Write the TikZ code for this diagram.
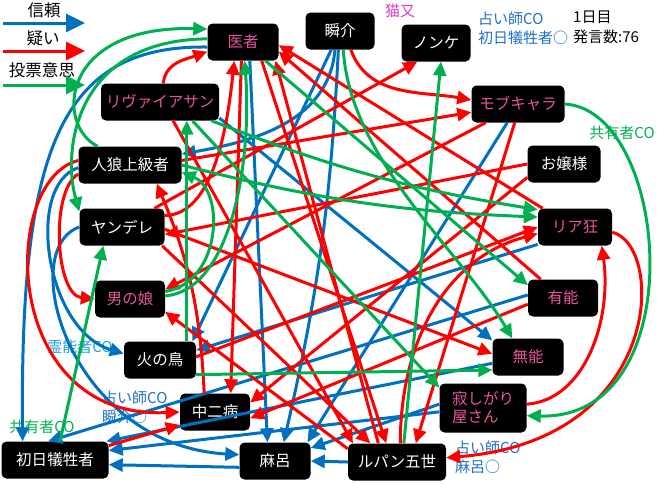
\documentclass[tikz,border=0pt]{standalone}
\usepackage{fontspec}
\setmainfont{Noto Sans CJK JP}
\usetikzlibrary{arrows.meta}
\definecolor{trustblue}{RGB}{0,112,192}
\definecolor{doubtred}{RGB}{255,0,0}
\definecolor{votegreen}{RGB}{0,176,80}
\definecolor{rolepink}{RGB}{232,84,158}
\definecolor{catpink}{RGB}{226,60,190}
\definecolor{seerblue}{RGB}{30,112,200}
\definecolor{mediumblue}{RGB}{30,160,230}

\begin{document}
\begin{tikzpicture}[x=1pt,y=1pt]
\tikzstyle{person}=[fill=black,rounded corners=5pt,minimum height=37pt,inner sep=2pt,text=white,font=\fontsize{15.5}{18}\selectfont]
\tikzstyle{pinkname}=[text=rolepink]
\tikzstyle{note}=[inner sep=0pt,font=\fontsize{15}{17.5}\selectfont]
\tikzstyle{legend}=[inner sep=0pt,font=\fontsize{16.5}{19}\selectfont]
\tikzstyle{trust}=[draw=trustblue,line width=3pt,-{Triangle[length=14pt,width=13pt]}]
\tikzstyle{doubt}=[draw=doubtred,line width=3pt,-{Triangle[length=14pt,width=13pt]}]
\tikzstyle{vote}=[draw=votegreen,line width=3pt,-{Triangle[length=14pt,width=13pt]}]
\tikzstyle{bigtip}=[-{Triangle[length=19pt,width=18pt]}]
\useasboundingbox (0,0) rectangle (660,-483);

\node[legend] (trustlbl) at (44,-10) {信頼};
\node[legend] (doubtlbl) at (43,-38) {疑い};
\node[legend] (votelbl) at (42,-70) {投票意思};
\coordinate (trustS) at (3,-23);
\coordinate (trustE) at (85,-23);
\coordinate (doubtS) at (3,-51);
\coordinate (doubtE) at (85,-51);
\coordinate (voteS) at (3,-85);
\coordinate (voteE) at (85,-85);
\draw [trust,bigtip] (trustS) -- (trustE);
\draw [doubt,bigtip] (doubtS) -- (doubtE);
\draw [vote,bigtip] (voteS) -- (voteE);

\node[note,text=catpink] (nekomata) at (400,-11) {猫又};
\node[note,text=seerblue,anchor=west] (seerA) at (478,-19) {占い師CO};
\node[note,text=seerblue,anchor=west] (seerAres) at (478,-38) {初日犠牲者○};
\node[note,anchor=west] (day) at (573,-17) {1日目};
\node[note,anchor=west] (count) at (573,-37) {発言数:76};
\node[note,text=votegreen] (shareA) at (622,-133) {共有者CO};
\node[note,text=mediumblue] (medium) at (80,-347) {霊能者CO};
\node[note,text=seerblue,anchor=west] (seerB) at (102,-398) {占い師CO};
\node[note,text=seerblue,anchor=west] (seerBres) at (102,-417) {瞬介○};
\node[note,text=votegreen] (shareB) at (42,-427) {共有者CO};
\node[note,text=seerblue,anchor=west] (seerC) at (455,-448) {占い師CO};
\node[note,text=seerblue,anchor=west] (seerCres) at (455,-467) {麻呂○};

\node[person,pinkname,minimum width=71pt] (isha) at (243,-42) {医者};
\node[person,minimum width=69pt] (shun) at (340,-31) {瞬介};
\node[person,minimum width=69pt] (nonke) at (436,-43) {ノンケ};
\node[person,pinkname,minimum width=93pt] (mob) at (518,-104) {モブキャラ};
\node[person,pinkname,minimum width=118pt] (levi) at (160,-102) {リヴァイアサン};
\node[person,minimum width=73pt] (ojo) at (564,-164) {お嬢様};
\node[person,minimum width=103pt] (jinro) at (130,-165) {人狼上級者};
\node[person,pinkname,minimum width=74pt] (riakyo) at (575,-227) {リア狂};
\node[person,minimum width=85pt] (yan) at (122,-227) {ヤンデレ};
\node[person,pinkname,minimum width=70pt] (yuno) at (563,-298) {有能};
\node[person,pinkname,minimum width=70pt] (otoko) at (130,-299) {男の娘};
\node[person,pinkname,minimum width=71pt] (muno) at (528,-357) {無能};
\node[person,minimum width=72pt] (hinotori) at (160,-360) {火の鳥};
\node[person,pinkname,minimum width=87pt,minimum height=49pt,align=left] (sabi) at (483,-408) {寂しがり\\屋さん};
\node[person,minimum width=70pt] (chuni) at (215,-412) {中二病};
\node[person,minimum width=107pt] (shonichi) at (55,-460) {初日犠牲者};
\node[person,minimum width=71pt] (maro) at (275,-461) {麻呂};
\node[person,minimum width=98pt] (lupin) at (397,-462) {ルパン五世};

\draw [trust] (shun.-105) to[out=-95,in=10] (jinro.12);
\draw [trust] (shun.-115) -- (hinotori.30);
\draw [trust] (isha.-70) -- (maro.112);
\draw [trust] (shun.-95) to[bend left=5] (maro.65);
\draw [trust] (mob.-120) -- (maro.30);
\draw [trust] (sabi.175) -- (maro.20);
\draw [trust] (sabi.185) -- (shonichi.10);
\draw [trust] (muno.-170) -- (shonichi.20);
\draw [trust] (yuno.175) -- (shonichi.110);
\draw [trust] (levi.-15) -- (muno.155);
\draw [trust] (riakyo.-155) -- (hinotori.15);
\draw [trust] (isha.188) .. controls (60,-45) and (20,-150) .. (shonichi.150);
\draw [trust] (jinro.183) .. controls (25,-185) and (45,-330) .. (hinotori.170);
\draw [trust] (yan.180) .. controls (15,-250) and (70,-445) .. (maro.170);
\draw [trust] (maro.-170) -- (shonichi.-5);
\draw [trust] (lupin.180) -- (maro.0);

\draw [doubt] (levi.80) to[out=85,in=200] (isha.195);
\draw [doubt] (shun.-60) to[out=-70,in=170] (mob.175);
\draw [doubt] (yan.15) .. controls (215,-215) and (228,-120) .. (isha.-115);
\draw [doubt] (isha.-95) -- (chuni.50);
\draw [doubt] (lupin.135) -- (isha.-30);
\draw [doubt] (yuno.140) -- (isha.-15);
\draw [doubt] (riakyo.150) -- (isha.-5);
\draw [doubt] (yan.30) -- (nonke.-135);
\draw [doubt] (jinro.5) -- (mob.-170);
\draw [doubt] (mob.-150) -- (otoko.15);
\draw [doubt] (mob.-100) -- (lupin.45);
\draw [doubt] (ojo.180) -- (yan.-10);
\draw [doubt] (ojo.-160) -- (chuni.15);
\draw [doubt] (hinotori.5) -- (riakyo.180);
\draw [doubt] (lupin.80) to[out=90,in=195] (riakyo.-170);
\draw [doubt] (riakyo.-8) .. controls (665,-245) and (665,-440) .. (lupin.5);
\draw [doubt] (sabi.5) .. controls (585,-400) and (612,-320) .. (riakyo.-35);
\draw [doubt] (yan.-3) -- (muno.175);
\draw [doubt] (yuno.-170) -- (chuni.-10);
\draw [doubt] (jinro.175) .. controls (0,-180) and (0,-420) .. (chuni.180);
\draw [doubt] (jinro.190) .. controls (50,-190) and (55,-295) .. (otoko.180);
\draw [doubt] (shonichi.15) -- (chuni.-160);
\draw [doubt] (levi.-55) -- (lupin.157);
\draw [doubt] (yan.-25) -- (lupin.145);
\draw [doubt] (isha.-45) -- (lupin.120);
\draw [doubt] (lupin.165) -- (otoko.-20);
\draw [doubt] (chuni.120) to[bend right=10] (jinro.-35);

\draw [vote] (isha.175) .. controls (75,-40) and (62,-150) .. (yan.160);
\draw [vote] (jinro.150) .. controls (55,-125) and (60,-25) .. (isha.160);
\draw [vote] (otoko.5) .. controls (232,-290) and (252,-160) .. (isha.-85);
\draw [vote] (otoko.12) .. controls (222,-282) and (225,-190) .. (jinro.-8);
\draw [vote] (hinotori.35) -- (levi.-35);
\draw [vote] (hinotori.-22) -- (muno.-160);
\draw [vote] (shonichi.75) -- (yan.-135);
\draw [vote] (jinro.0) to[bend right=6] (riakyo.165);
\draw [vote] (levi.-20) to[bend right=6] (riakyo.155);
\draw [vote] (isha.-40) -- (yuno.160);
\draw [vote] (shun.-80) .. controls (350,-160) and (460,-250) .. (muno.130);
\draw [vote] (levi.-30) -- (sabi.155);
\draw [vote] (mob.0) .. controls (670,-110) and (695,-420) .. (sabi.-10);
\draw [vote] (lupin.70) -- (nonke.-75);
\end{tikzpicture}
\end{document}
